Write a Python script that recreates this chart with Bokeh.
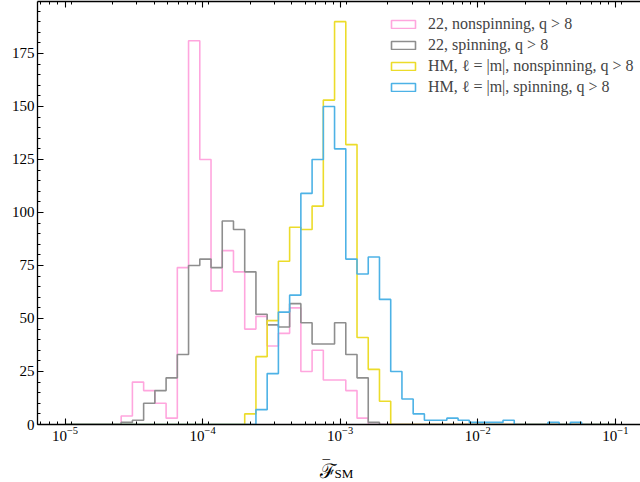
import numpy as np
from bokeh.plotting import figure
from bokeh.models import (Range1d, LogAxis, LogTicker, SingleIntervalTicker, Legend,
                          LegendItem, Label)
from bokeh.embed import file_html
from bokeh.resources import INLINE

# ---- data -------------------------------------------------------------
bin_edges = np.logspace(-5, -1, 50)   # 49 log-spaced bins

counts_22_nonspin = [0, 0, 0, 0, 0, 4, 20, 16, 10, 3, 74, 181, 125, 63, 82, 72, 45, 51, 37, 43,
                     55, 25, 35, 21, 21, 16, 3, 0, 0, 0, 0, 0, 0, 0, 0, 0, 0, 0, 0, 0,
                     0, 0, 0, 0, 0, 0, 0, 0, 0]
counts_22_spin = [0, 0, 0, 0, 0, 1, 2, 10, 16, 22, 33, 75, 78, 74, 96, 92, 72, 52, 47, 46,
                  57, 48, 38, 38, 48, 33, 22, 1, 0, 0, 0, 0, 0, 0, 0, 0, 0, 0, 0, 0,
                  0, 0, 0, 0, 0, 0, 0, 0, 0]
counts_hm_nonspin = [0, 0, 0, 0, 0, 0, 0, 0, 0, 0, 0, 0, 0, 0, 0, 0, 5, 32, 49, 77,
                     93, 92, 103, 153, 190, 132, 41, 26, 11, 0, 0, 0, 0, 0, 0, 0, 0, 0, 0, 0,
                     0, 0, 0, 0, 0, 0, 0, 0, 0]
counts_hm_spin = [0, 0, 0, 0, 0, 0, 0, 0, 0, 0, 0, 0, 0, 0, 0, 0, 0, 7, 24, 53,
                  61, 109, 125, 150, 130, 78, 71, 79, 59, 25, 12, 5, 2, 2, 3, 2, 1, 1, 1, 2,
                  0, 0, 0, 1, 0, 1, 0, 0, 0]

series_labels = ["22, nonspinning, q > 8",
                 "22, spinning, q > 8",
                 "HM, \u2113 = |m|, nonspinning, q > 8",
                 "HM, \u2113 = |m|, spinning, q > 8"]
series_colors = ["#FFA6DE", "#8E8E8E", "#ECDC2A", "#4DB2E6"]
series_counts = [counts_22_nonspin, counts_22_spin, counts_hm_nonspin, counts_hm_spin]

y_ticks_interval = 25

# ---- figure -----------------------------------------------------------
SERIF = "Liberation Serif"

p = figure(width=640, height=482, output_backend="svg", toolbar_location=None,
           x_axis_type="log",
           x_range=Range1d(10 ** -5.2, 10 ** -0.817), y_range=Range1d(0, 199.5),
           min_border_left=36, min_border_right=0, min_border_top=1, min_border_bottom=58)
p.outline_line_color = None
p.xgrid.visible = False
p.ygrid.visible = False
p.background_fill_color = "white"
p.border_fill_color = "white"


def outline(edges, counts):
    xs = [edges[0]]
    ys = [0]
    for i, c in enumerate(counts):
        xs += [edges[i], edges[i + 1]]
        ys += [c, c]
    xs.append(edges[-1])
    ys.append(0)
    return xs, ys


items = []
for lab, col, cnt in zip(series_labels, series_colors, series_counts):
    xs, ys = outline(bin_edges, cnt)
    p.line(xs, ys, line_color=col, line_width=1.6)
    # legend-only box (NaN coordinates, nothing drawn in the plot)
    box = p.quad(left=[np.nan], right=[np.nan], top=[np.nan], bottom=[np.nan],
                 fill_alpha=0, line_color=col, line_width=1.6)
    items.append(LegendItem(label=lab, renderers=[box], index=0))

# ---- axes -------------------------------------------------------------
xticker = LogTicker(num_minor_ticks=9)
xa = p.xaxis[0]
xa.ticker = xticker
ya = p.yaxis[0]
ya.ticker = SingleIntervalTicker(interval=y_ticks_interval, num_minor_ticks=5)

top = LogAxis(ticker=xticker)
p.add_layout(top, "above")

for ax in (xa, ya, top):
    ax.axis_line_color = "black"
    ax.axis_line_width = 1.3
    ax.major_tick_line_color = "black"
    ax.minor_tick_line_color = "black"
    ax.major_tick_line_width = 1.1
    ax.minor_tick_line_width = 1.0
    ax.major_tick_in = 6
    ax.major_tick_out = 0
    ax.minor_tick_in = 3
    ax.minor_tick_out = 0
    ax.major_label_text_font = SERIF
    ax.major_label_text_color = "black"

xa.major_label_text_font_size = "15px"
xa.major_label_standoff = 2
ya.major_label_text_font_size = "15px"
ya.major_label_standoff = 3
top.major_label_text_font_size = "0px"
top.major_label_standoff = 0
top.major_label_text_alpha = 0

# ---- axis label (F-bar with subscript SM), canvas coordinates ---------
# side-panel annotations are not clipped to the frame
p.add_layout(Label(x=319, y=470, x_units="canvas", y_units="canvas",
                   text="\u2131", text_font=SERIF, text_font_size="20px",
                   text_baseline="alphabetic", text_color="black"), "below")
p.add_layout(Label(x=334, y=473, x_units="canvas", y_units="canvas",
                   text="SM", text_font=SERIF, text_font_size="13px",
                   text_baseline="alphabetic", text_color="black"), "below")
p.add_layout(Label(x=322, y=464, x_units="canvas", y_units="canvas",
                   text="\u00af", text_font=SERIF, text_font_size="15px",
                   text_baseline="alphabetic", text_color="black"), "left")

# ---- legend -----------------------------------------------------------
legend = Legend(items=items, location=(351, 328))
legend.background_fill_alpha = 0
legend.border_line_color = None
legend.label_text_font = SERIF
legend.label_text_font_size = "16px"
legend.label_standoff = 10
legend.glyph_width = 30
legend.glyph_height = 10
legend.label_height = 18
legend.spacing = 3
legend.padding = 4
legend.margin = 0
p.add_layout(legend, "center")

open("out.html", "w").write(file_html(p, INLINE))
